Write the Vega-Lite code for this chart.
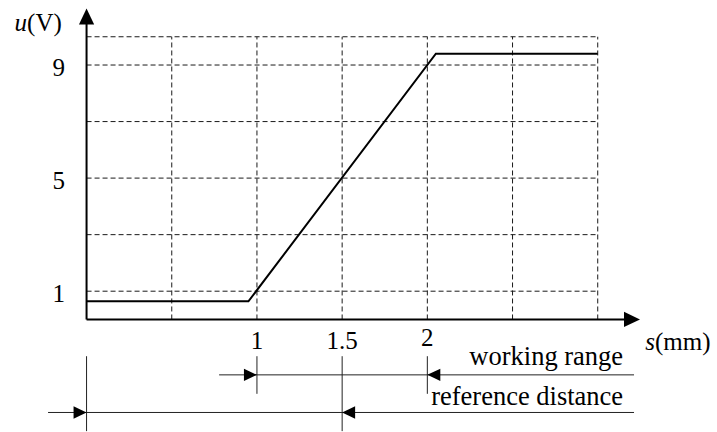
{
  "$schema": "https://vega.github.io/schema/vega-lite/v6.json",
  "width": 717,
  "height": 432,
  "padding": 0,
  "autosize": {"type": "fit", "contains": "padding"},
  "background": "white",
  "config": {"view": {"stroke": null}, "text": {"font": "Liberation Serif, Times New Roman, Times, serif", "fontSize": 25, "fill": "#000"}},
  "datasets": {
    "curve": [
      {"s": 0, "u": 0.64},
      {"s": 0.95, "u": 0.64},
      {"s": 2.05, "u": 9.4},
      {"s": 3, "u": 9.4}
    ],
    "grid": [
      {"s": 0.5, "u": 0, "s2": 0.5, "u2": 10},
      {"s": 1, "u": 0, "s2": 1, "u2": 10},
      {"s": 1.5, "u": 0, "s2": 1.5, "u2": 10},
      {"s": 2, "u": 0, "s2": 2, "u2": 10},
      {"s": 2.5, "u": 0, "s2": 2.5, "u2": 10},
      {"s": 3, "u": 0, "s2": 3, "u2": 10},
      {"s": 0, "u": 1, "s2": 3, "u2": 1},
      {"s": 0, "u": 3, "s2": 3, "u2": 3},
      {"s": 0, "u": 5, "s2": 3, "u2": 5},
      {"s": 0, "u": 7, "s2": 3, "u2": 7},
      {"s": 0, "u": 9, "s2": 3, "u2": 9},
      {"s": 0, "u": 10, "s2": 3, "u2": 10}
    ],
    "axes": [
      {"s": 0, "u": 0, "s2": 3.19, "u2": 0},
      {"s": 0, "u": 0, "s2": 0, "u2": 10.6}
    ],
    "dims": [
      {"s": 0.778, "u": -1.96, "s2": 3.213, "u2": -1.96},
      {"s": -0.226, "u": -3.29, "s2": 3.213, "u2": -3.29},
      {"s": 1, "u": -1.3, "s2": 1, "u2": -2.63},
      {"s": 2, "u": -1.3, "s2": 2, "u2": -2.63},
      {"s": 1.5, "u": -1.3, "s2": 1.5, "u2": -3.95},
      {"s": 0, "u": -1.3, "s2": 0, "u2": -3.95}
    ],
    "arrows": [
      {"s": 0, "u": 11, "dir": "up", "kind": "axis"},
      {"s": 3.248, "u": 0, "dir": "right", "kind": "axis"},
      {"s": 1, "u": -1.96, "dir": "right", "kind": "note"},
      {"s": 2, "u": -1.96, "dir": "left", "kind": "note"},
      {"s": 0, "u": -3.29, "dir": "right", "kind": "note"},
      {"s": 1.5, "u": -3.29, "dir": "left", "kind": "note"}
    ],
    "yticks": [
      {"s": -0.126, "u": 9, "label": "9"},
      {"s": -0.126, "u": 5, "label": "5"},
      {"s": -0.126, "u": 1, "label": "1"}
    ],
    "xticks": [
      {"s": 1, "u": -1.06, "label": "1"},
      {"s": 1.5, "u": -1.06, "label": "1.5"},
      {"s": 2, "u": -0.95, "label": "2"}
    ],
    "notes": [
      {"s": 3.149, "u": -1.62, "label": "working range"},
      {"s": 3.149, "u": -3.03, "label": "reference distance"}
    ],
    "titles": [
      {"s": -0.349, "u": 10.21, "ital": "u", "rest": "(V)"},
      {"s": 3.336, "u": -1.09, "ital": "s", "rest": "(mm)"}
    ]
  },
  "encoding": {
    "x": {"field": "s", "type": "quantitative", "scale": {"domain": [-0.508, 3.7], "nice": false, "zero": false, "padding": 0}, "axis": null},
    "y": {"field": "u", "type": "quantitative", "scale": {"domain": [-3.91, 11.3], "nice": false, "zero": false, "padding": 0}, "axis": null}
  },
  "layer": [
    {
      "data": {"name": "grid"},
      "mark": {"type": "rule", "stroke": "#1a1a1a", "strokeWidth": 1, "strokeDash": [5, 3]},
      "encoding": {"x2": {"field": "s2"}, "y2": {"field": "u2"}}
    },
    {
      "data": {"name": "curve"},
      "mark": {"type": "line", "stroke": "#000", "strokeWidth": 2},
      "encoding": {"order": {"field": "s"}}
    },
    {
      "data": {"name": "axes"},
      "mark": {"type": "rule", "stroke": "#000", "strokeWidth": 2},
      "encoding": {"x2": {"field": "s2"}, "y2": {"field": "u2"}}
    },
    {
      "data": {"name": "dims"},
      "mark": {"type": "rule", "stroke": "#222", "strokeWidth": 1},
      "encoding": {"x2": {"field": "s2"}, "y2": {"field": "u2"}}
    },
    {
      "data": {"name": "arrows"},
      "mark": {"type": "point", "filled": true, "fill": "#000", "opacity": 1, "strokeWidth": 0},
      "encoding": {
        "shape": {"field": "dir", "type": "nominal", "scale": {"domain": ["right", "left", "up"], "range": ["M0,0L-2,-0.95L-2,0.95Z", "M0,0L2,-0.95L2,0.95Z", "M0,0L-0.95,2L0.95,2Z"]}, "legend": null},
        "size": {"field": "kind", "type": "ordinal", "scale": {"domain": ["axis", "note"], "range": [256, 169]}, "legend": null}
      }
    },
    {
      "data": {"name": "yticks"},
      "mark": {"type": "text", "align": "right", "baseline": "alphabetic", "dy": 11},
      "encoding": {"text": {"field": "label"}}
    },
    {
      "data": {"name": "xticks"},
      "mark": {"type": "text", "align": "center", "baseline": "alphabetic"},
      "encoding": {"text": {"field": "label"}}
    },
    {
      "data": {"name": "notes"},
      "mark": {"type": "text", "align": "right", "baseline": "alphabetic", "fontSize": 26.5},
      "encoding": {"text": {"field": "label"}}
    },
    {
      "data": {"name": "titles"},
      "mark": {"type": "text", "align": "right", "baseline": "alphabetic", "fontStyle": "italic"},
      "encoding": {"text": {"field": "ital"}}
    },
    {
      "data": {"name": "titles"},
      "mark": {"type": "text", "align": "left", "baseline": "alphabetic"},
      "encoding": {"text": {"field": "rest"}}
    }
  ]
}
